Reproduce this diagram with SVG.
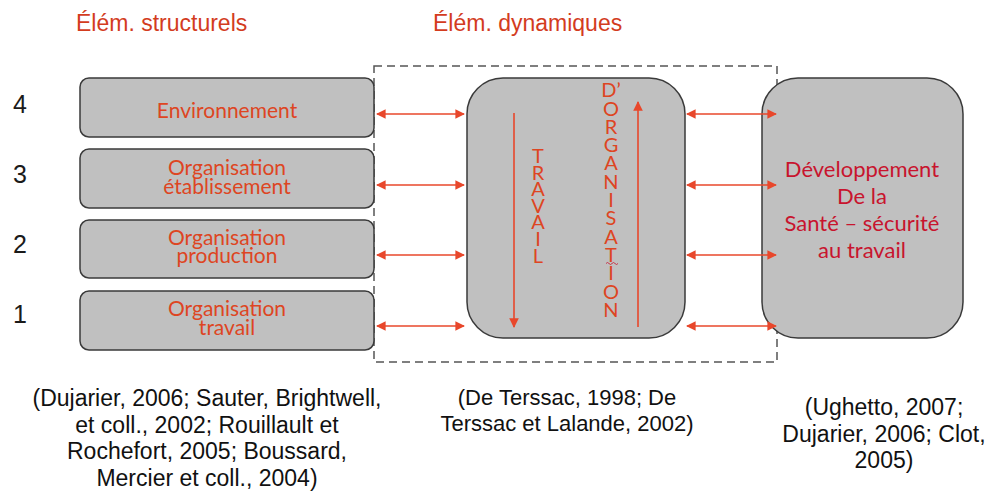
<svg xmlns="http://www.w3.org/2000/svg" width="990" height="492" viewBox="0 0 990 492">
  <style>
    .box { fill: #c0c0c0; stroke: #3a3a3a; stroke-width: 1.5; }
    .head { font-family: "Liberation Sans", Arial, sans-serif; font-size: 23px; fill: #d33c1e; }
    .num { font-family: "Liberation Sans", Arial, sans-serif; font-size: 25px; fill: #1a1a1a; text-anchor: middle; }
    .lbl { font-family: Lato, "Open Sans", sans-serif; font-size: 21px; fill: #de4522; text-anchor: middle; }
    .dev { font-family: Lato, "Open Sans", sans-serif; font-size: 22px; fill: #c8142e; text-anchor: middle; }
    .vert { font-family: Lato, "Open Sans", sans-serif; font-size: 20px; fill: #de4522; text-anchor: middle; }
    .ref { font-family: "Liberation Sans", Arial, sans-serif; font-size: 23px; fill: #111; text-anchor: middle; }
    .ref.mid { font-size: 22px; }
    .arrow { stroke: #e8472b; stroke-width: 1.6; fill: none; }
    .frame { fill: none; stroke: #555; stroke-width: 1.5; stroke-dasharray: 8 5; }
  </style>
  <defs>
    <marker id="head" viewBox="0 0 10 10" refX="9" refY="5" markerWidth="6" markerHeight="6" orient="auto-start-reverse" markerUnits="strokeWidth">
      <path d="M0,0 L10,5 L0,10 z" fill="#e8472b"/>
    </marker>
  </defs>

  <rect width="990" height="492" fill="#ffffff"/>

  <!-- column headings -->
  <text class="head" x="76" y="31">Élém. structurels</text>
  <text class="head" x="433" y="31">Élém. dynamiques</text>

  <!-- level numbers -->
  <text class="num" x="20" y="113">4</text>
  <text class="num" x="20" y="183">3</text>
  <text class="num" x="20" y="253">2</text>
  <text class="num" x="20" y="323">1</text>

  <!-- dashed frame around the dynamic elements -->
  <rect class="frame" x="374" y="66" width="403" height="296"/>

  <!-- structural elements -->
  <g id="environnement">
    <rect class="box" x="80" y="78" width="294" height="59" rx="9"/>
    <text class="lbl" x="227" y="118">Environnement</text>
  </g>
  <g id="org-etablissement">
    <rect class="box" x="80" y="149" width="294" height="59" rx="9"/>
    <text class="lbl" x="227" y="175">Organisation</text>
    <text class="lbl" x="227" y="194">établissement</text>
  </g>
  <g id="org-production">
    <rect class="box" x="80" y="220" width="294" height="58" rx="9"/>
    <text class="lbl" x="227" y="245">Organisation</text>
    <text class="lbl" x="227" y="263">production</text>
  </g>
  <g id="org-travail">
    <rect class="box" x="80" y="291" width="294" height="59" rx="9"/>
    <text class="lbl" x="227" y="316">Organisation</text>
    <text class="lbl" x="227" y="335">travail</text>
  </g>

  <!-- work organisation (dynamic) -->
  <g id="travail-organisation">
    <rect class="box" x="467" y="78" width="218" height="260" rx="36"/>
    <text class="vert"><tspan x="538" y="163">T</tspan><tspan x="538" y="179.5">R</tspan><tspan x="538" y="196">A</tspan><tspan x="538" y="212.5">V</tspan><tspan x="538" y="229">A</tspan><tspan x="538" y="246">I</tspan><tspan x="538" y="263">L</tspan></text>
    <text class="vert"><tspan x="611" y="97">D’</tspan><tspan x="611" y="116">O</tspan><tspan x="611" y="134">R</tspan><tspan x="611" y="152">G</tspan><tspan x="611" y="170">A</tspan><tspan x="611" y="189">N</tspan><tspan x="611" y="207">I</tspan><tspan x="611" y="225">S</tspan><tspan x="611" y="244">A</tspan><tspan x="611" y="262">T</tspan><tspan x="611" y="280">I</tspan><tspan x="611" y="299">O</tspan><tspan x="611" y="317">N</tspan></text>
    <path d="M606,263.5 q1.5,-2 3,0 t3,0 t3,0 t3,0" fill="none" stroke="#c8142e" stroke-width="0.8"/>
  </g>

  <!-- health and safety development -->
  <g id="sante-securite">
    <rect class="box" x="762" y="78" width="201" height="260" rx="36"/>
    <text class="dev" x="862" y="177">Développement</text>
    <text class="dev" x="862" y="204">De la</text>
    <text class="dev" x="862" y="231">Santé – sécurité</text>
    <text class="dev" x="862" y="258">au travail</text>
  </g>

  <!-- connectors -->
  <g id="connectors">
    <line class="arrow" x1="377" y1="114" x2="464" y2="114" marker-start="url(#head)" marker-end="url(#head)"/>
    <line class="arrow" x1="377" y1="185" x2="464" y2="185" marker-start="url(#head)" marker-end="url(#head)"/>
    <line class="arrow" x1="377" y1="255" x2="464" y2="255" marker-start="url(#head)" marker-end="url(#head)"/>
    <line class="arrow" x1="377" y1="326" x2="464" y2="326" marker-start="url(#head)" marker-end="url(#head)"/>
    <line class="arrow" x1="687" y1="114" x2="776" y2="114" marker-start="url(#head)" marker-end="url(#head)"/>
    <line class="arrow" x1="687" y1="185" x2="776" y2="185" marker-start="url(#head)" marker-end="url(#head)"/>
    <line class="arrow" x1="687" y1="255" x2="776" y2="255" marker-start="url(#head)" marker-end="url(#head)"/>
    <line class="arrow" x1="687" y1="326" x2="776" y2="326" marker-start="url(#head)" marker-end="url(#head)"/>
    <line class="arrow" x1="514" y1="113" x2="514" y2="327" marker-end="url(#head)"/>
    <line class="arrow" x1="638" y1="327" x2="638" y2="102" marker-end="url(#head)"/>
  </g>

  <!-- references -->
  <text class="ref" x="207" y="406">(Dujarier, 2006; Sauter, Brightwell,</text>
  <text class="ref" x="207" y="432.5">et coll., 2002; Rouillault et</text>
  <text class="ref" x="207" y="459">Rochefort, 2005; Boussard,</text>
  <text class="ref" x="207" y="485.5">Mercier et coll., 2004)</text>

  <text class="ref mid" x="567" y="405">(De Terssac, 1998; De</text>
  <text class="ref mid" x="567" y="431">Terssac et Lalande, 2002)</text>

  <text class="ref" x="884" y="415">(Ughetto, 2007;</text>
  <text class="ref" x="884" y="441.5">Dujarier, 2006; Clot,</text>
  <text class="ref" x="884" y="468">2005)</text>
</svg>
